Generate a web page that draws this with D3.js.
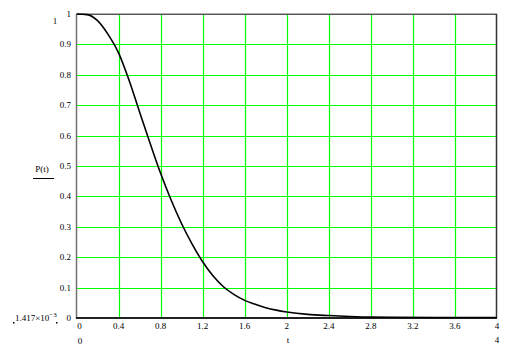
<!DOCTYPE html>
<html>
<head>
<meta charset="utf-8">
<script src="https://cdn.jsdelivr.net/npm/d3@7"></script>
<style>
  body { margin: 0; background: #fff; }
</style>
</head>
<body>
<div id="graphe"></div>
<script>
// valeurs
var tValeurs = [0, 0.1, 0.2, 0.3, 0.4, 0.5, 0.6, 0.7, 0.8, 0.9, 1.0, 1.1, 1.2, 1.3, 1.4, 1.5,
                1.6, 1.7, 1.8, 1.9, 2.0, 2.2, 2.4, 2.6, 2.8, 3.0, 3.5, 4.0];
var pValeurs = [1, 0.998, 0.978, 0.933, 0.872, 0.782, 0.678, 0.575, 0.476, 0.388, 0.31, 0.243, 0.185, 0.138, 0.102, 0.077,
                0.058, 0.045, 0.034, 0.026, 0.02, 0.012, 0.008, 0.005, 0.003, 0.0025, 0.0018, 0.0014];
var xTicks = [0, 0.4, 0.8, 1.2, 1.6, 2, 2.4, 2.8, 3.2, 3.6, 4];
var yTicks = [0, 0.1, 0.2, 0.3, 0.4, 0.5, 0.6, 0.7, 0.8, 0.9, 1];

var largeur = 515, hauteur = 346;
var gauche = 76.5, droite = 497, haut = 14, bas = 318;
var police = "'Times New Roman', 'Liberation Serif', serif";
var vert = "#00ff00";

var svg = d3.select("#graphe").append("svg").attr("width", largeur).attr("height", hauteur)
  .attr("font-family", police).attr("font-size", 9);

var x = d3.scaleLinear().domain([0, 4]).range([gauche, droite]);
var y = d3.scaleLinear().domain([0, 1]).range([bas, haut]);

// grille verte
svg.selectAll(".gx").data(xTicks.slice(1, -1)).enter().append("line")
  .attr("x1", function(d) { return Math.round(x(d)) + 0.5; })
  .attr("x2", function(d) { return Math.round(x(d)) + 0.5; })
  .attr("y1", haut).attr("y2", bas)
  .attr("stroke", vert).attr("stroke-width", 1.2);
svg.selectAll(".gy").data(yTicks.slice(1, -1)).enter().append("line")
  .attr("y1", function(d) { return Math.round(y(d)) + 0.5; })
  .attr("y2", function(d) { return Math.round(y(d)) + 0.5; })
  .attr("x1", gauche).attr("x2", droite)
  .attr("stroke", vert).attr("stroke-width", 1.2);

// cadre
svg.append("line").attr("x1", gauche).attr("x2", droite).attr("y1", haut - 0.5).attr("y2", haut - 0.5)
  .attr("stroke", "#b0b0b0");
svg.append("line").attr("x1", gauche).attr("x2", droite).attr("y1", haut + 0.5).attr("y2", haut + 0.5)
  .attr("stroke", "#555");
svg.append("line").attr("x1", droite - 0.5).attr("x2", droite - 0.5).attr("y1", haut).attr("y2", bas)
  .attr("stroke", "#333").attr("stroke-width", 1.5);
svg.append("line").attr("x1", gauche).attr("x2", gauche).attr("y1", haut).attr("y2", bas)
  .attr("stroke", "#707070").attr("stroke-width", 1.5);
svg.append("line").attr("x1", gauche - 0.5).attr("x2", droite).attr("y1", bas).attr("y2", bas)
  .attr("stroke", "#222").attr("stroke-width", 2);

// courbe
var donnees = tValeurs.map(function(t, i) { return [t, pValeurs[i]]; });
var ligne = d3.line()
  .x(function(d) { return x(d[0]); })
  .y(function(d) { return y(d[1]); })
  .curve(d3.curveMonotoneX);
svg.append("path").datum(donnees)
  .attr("d", ligne)
  .attr("fill", "none")
  .attr("stroke", "#000")
  .attr("stroke-width", 1.6);

// etiquettes des axes
svg.selectAll(".ly").data(yTicks).enter().append("text")
  .attr("x", 71).attr("y", function(d) { return y(d) + 3; })
  .attr("text-anchor", "end")
  .text(function(d) { return d; });
svg.selectAll(".lx").data(xTicks).enter().append("text")
  .attr("x", function(d) { return x(d) + (d === 0 ? 3 : 0); })
  .attr("y", 329)
  .attr("text-anchor", "middle")
  .text(function(d) { return d; });

// limites et noms
svg.append("text").attr("x", 55).attr("y", 24).attr("text-anchor", "middle").text("1");
var lim = svg.append("text").attr("x", 15).attr("y", 321);
lim.append("tspan").text("1.417\u00d710");
lim.append("tspan").attr("dy", -4).attr("font-size", "7px").text("\u22123");
svg.append("text").attr("x", 80).attr("y", 344).attr("text-anchor", "middle").text("0");
svg.append("text").attr("x", 497).attr("y", 343).attr("text-anchor", "middle").text("4");
svg.append("text").attr("x", 288).attr("y", 343).attr("text-anchor", "middle").text("t");
svg.append("text").attr("x", 42).attr("y", 172).attr("text-anchor", "middle").text("P(t)");
svg.append("line").attr("x1", 33).attr("x2", 54).attr("y1", 178.5).attr("y2", 178.5)
  .attr("stroke", "#000").attr("stroke-width", 1);

// petites marques autour des limites
var coins = [[13, 322], [56, 322], [77, 346], [84, 346]];
svg.selectAll(".coin").data(coins).enter().append("rect")
  .attr("x", function(d) { return d[0]; }).attr("y", function(d) { return d[1]; })
  .attr("width", 1.5).attr("height", 1.5).attr("fill", "#000");
</script>
</body>
</html>
